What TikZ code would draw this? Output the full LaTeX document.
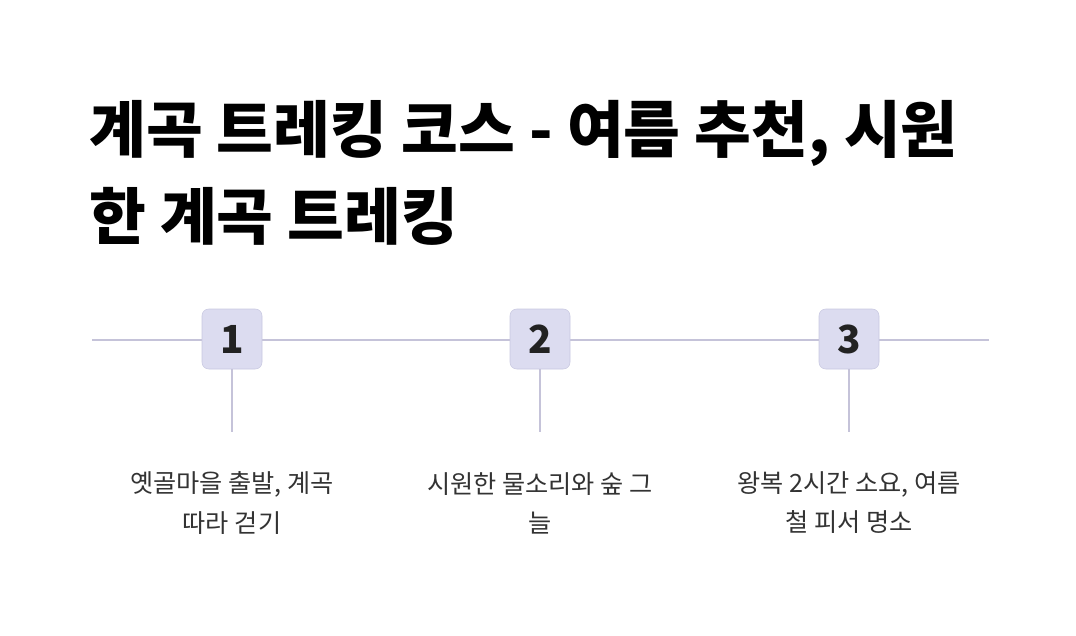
\documentclass[tikz,border=0pt]{standalone}
\usepackage{fontspec}
\setmainfont{Noto Sans CJK KR}
\usetikzlibrary{positioning}
\definecolor{railgray}{HTML}{C5C3D9}
\definecolor{boxfill}{HTML}{DCDCF0}
\definecolor{boxline}{HTML}{C8C8E0}
\definecolor{inkdark}{HTML}{222222}
\definecolor{labelgray}{HTML}{333333}
\begin{document}
\begin{tikzpicture}[x=0.75pt, y=-0.75pt,
    rail/.style={railgray, line width=1.5pt},
    numbox/.style={draw=boxline, fill=boxfill, rounded corners=5pt, minimum width=45pt, minimum height=45pt, inner sep=0pt, font=\bfseries\fontsize{29}{29}\selectfont, text=inkdark},
    steptext/.style={align=center, text=labelgray, font=\fontsize{18.9}{29.3}\selectfont},
  ]
  \useasboundingbox (0,0) rectangle (1076,636);

  \node[anchor=north west, inner sep=0pt, align=left, font=\bfseries\fontsize{46.3}{65}\selectfont] (title) at (89,100)
    {계곡 트레킹 코스 - 여름 추천, 시원\\한 계곡 트레킹};

  \coordinate (railL) at (92,340);
  \coordinate (railR) at (989,340);
  \draw[rail] (railL) -- (railR);

  % three steps
  \node[numbox] (n1) at (232,339) {1};
  \node[numbox] (n2) at (540,339) {2};
  \node[numbox] (n3) at (849,339) {3};

  \coordinate (t1) at (232,432);
  \coordinate (t2) at (540,432);
  \coordinate (t3) at (849,432);
  \draw[rail] (n1) -- (t1);
  \draw[rail] (n2) -- (t2);
  \draw[rail] (n3) -- (t3);

  \node[steptext] (s1) at (232,503) {옛골마을 출발, 계곡\\따라 걷기};
  \node[steptext] (s2) at (540,503) {시원한 물소리와 숲 그\\늘};
  \node[steptext] (s3) at (849,503) {왕복 2시간 소요, 여름\\철 피서 명소};
\end{tikzpicture}
\end{document}
